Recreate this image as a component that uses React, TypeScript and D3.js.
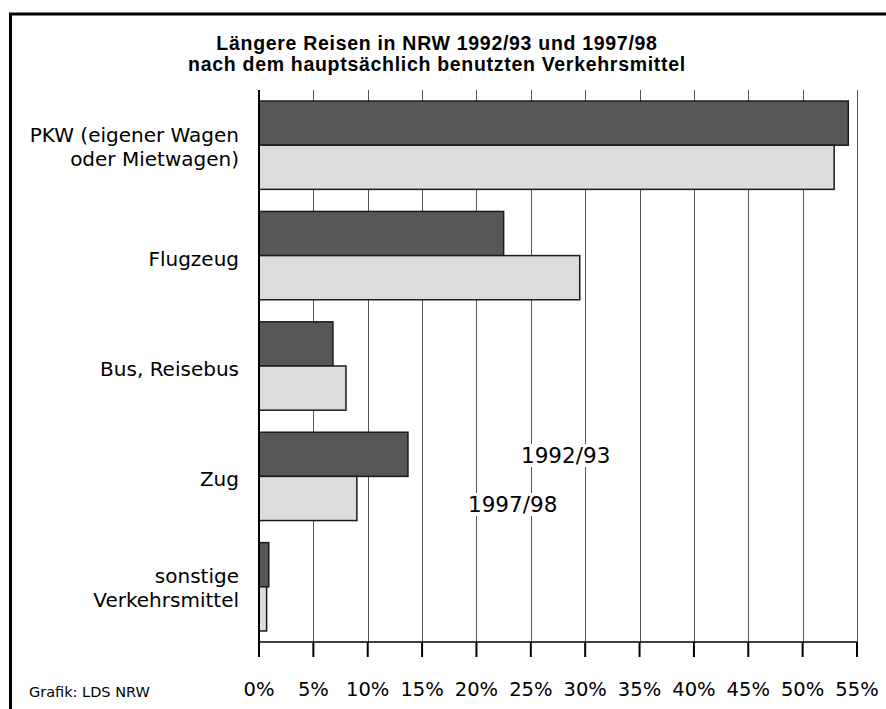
import React, { useEffect, useRef } from 'react';
import * as d3 from 'd3';

// Verkehrsmittel (keys) and their label lines
const categories = ['PKW', 'Flugzeug', 'Bus', 'Zug', 'sonstige'];
const categoryLines = [
  ['PKW (eigener Wagen', 'oder Mietwagen)'],
  ['Flugzeug'],
  ['Bus, Reisebus'],
  ['Zug'],
  ['sonstige', 'Verkehrsmittel'],
];

// Anteile in %
const series = ['1992/93', '1997/98'];
const values9293 = [54.2, 22.5, 6.8, 13.7, 0.9];
const values9798 = [52.9, 29.5, 8.0, 9.0, 0.7];

const tickValues = [0, 5, 10, 15, 20, 25, 30, 35, 40, 45, 50, 55];
const titleLines = [
  'Längere Reisen in NRW 1992/93 und 1997/98',
  'nach dem hauptsächlich benutzten Verkehrsmittel',
];
const sourceText = 'Grafik: LDS NRW';

const W = 886;
const H = 709;
const FONT = '"DejaVu Sans", "Open Sans", sans-serif';

export default function App() {
  const ref = useRef<SVGSVGElement>(null);

  useEffect(() => {
    const svg = d3.select(ref.current);
    svg.selectAll('*').remove();

    const x = d3.scaleLinear().domain([0, 55]).range([259, 857]);
    const y = d3.scaleBand<string>()
      .domain(categories)
      .range([90, 642])
      .paddingInner(0.2)
      .paddingOuter(0.1);
    const ySub = d3.scaleBand<string>().domain(series).range([0, y.bandwidth()]);
    const fills: Record<string, string> = { '1992/93': '#575757', '1997/98': '#dcdcdc' };

    // frame (runs off to the right and bottom)
    svg.append('rect')
      .attr('x', 10.5).attr('y', 14)
      .attr('width', 1000).attr('height', 1000)
      .attr('fill', 'none').attr('stroke', '#000').attr('stroke-width', 3);

    // title
    svg.append('g').selectAll('text')
      .data(titleLines)
      .enter().append('text')
      .attr('x', 437).attr('y', (d, i) => 50 + i * 20.5)
      .attr('text-anchor', 'middle')
      .style('font-family', '"Liberation Sans", Arial, sans-serif')
      .style('font-weight', 'bold')
      .style('font-size', '19.5px')
      .style('letter-spacing', '0.7px')
      .text(d => d);

    // gridlines
    svg.append('g').selectAll('line')
      .data(tickValues.slice(1))
      .enter().append('line')
      .attr('x1', d => Math.round(x(d)) + 0.5).attr('x2', d => Math.round(x(d)) + 0.5)
      .attr('y1', 90).attr('y2', 642)
      .attr('stroke', '#555').attr('stroke-width', 1);

    // bars
    const groups = svg.append('g').selectAll('g')
      .data(categories)
      .enter().append('g')
      .attr('transform', d => `translate(0,${y(d)})`);

    groups.selectAll('rect')
      .data((d, i) => [
        { s: series[0], v: values9293[i] },
        { s: series[1], v: values9798[i] },
      ])
      .enter().append('rect')
      .attr('x', x(0))
      .attr('y', d => ySub(d.s) as number)
      .attr('width', d => x(d.v) - x(0))
      .attr('height', ySub.bandwidth())
      .attr('fill', d => fills[d.s])
      .attr('stroke', '#1a1a1a')
      .attr('stroke-width', 1.5);

    // category labels
    categories.forEach((c, i) => {
      const lines = categoryLines[i];
      const cy = (y(c) as number) + y.bandwidth() / 2;
      const first = lines.length === 1 ? cy + 10 : cy - 3.5;
      svg.append('text')
        .attr('x', 239)
        .attr('text-anchor', 'end')
        .style('font-family', FONT)
        .style('font-size', '20px')
        .selectAll('tspan')
        .data(lines)
        .enter().append('tspan')
        .attr('x', 239)
        .attr('y', (d, j) => first + j * 24)
        .text(d => d);
    });

    // zero line
    svg.append('line')
      .attr('x1', x(0)).attr('x2', x(0))
      .attr('y1', 90).attr('y2', 657)
      .attr('stroke', '#000').attr('stroke-width', 2);

    // x axis
    const axis = svg.append('g').attr('transform', 'translate(0,642)');
    axis.append('line')
      .attr('x1', x(0)).attr('x2', x(55))
      .attr('stroke', '#000').attr('stroke-width', 1.5);
    axis.selectAll('line.tick')
      .data(tickValues)
      .enter().append('line')
      .attr('class', 'tick')
      .attr('x1', d => x(d)).attr('x2', d => x(d))
      .attr('y1', 0).attr('y2', 15)
      .attr('stroke', '#000').attr('stroke-width', 2);
    axis.selectAll('text')
      .data(tickValues)
      .enter().append('text')
      .attr('x', d => x(d))
      .attr('y', 54)
      .attr('text-anchor', 'middle')
      .style('font-family', FONT)
      .style('font-size', '19.5px')
      .text(d => `${d}%`);

    // legend, labels sit on white patches over the gridlines
    const legend = [
      { label: series[0], x: 521, y: 463 },
      { label: series[1], x: 468, y: 512 },
    ];
    legend.forEach(l => {
      const t = svg.append('text')
        .attr('x', l.x).attr('y', l.y)
        .style('font-family', FONT)
        .style('font-size', '21.5px')
        .text(l.label);
      const bb = (t.node() as SVGTextElement).getBBox();
      svg.insert('rect', () => t.node())
        .attr('x', bb.x - 2).attr('y', bb.y + 1)
        .attr('width', bb.width + 4).attr('height', bb.height - 2)
        .attr('fill', '#fff');
    });

    // source
    svg.append('text')
      .attr('x', 29).attr('y', 697)
      .style('font-family', FONT)
      .style('font-size', '14.5px')
      .text(sourceText);
  }, []);

  return (
    <svg
      ref={ref}
      width={W}
      height={H}
      style={{ position: 'absolute', left: 0, top: 0, background: '#fff' }}
    />
  );
}
